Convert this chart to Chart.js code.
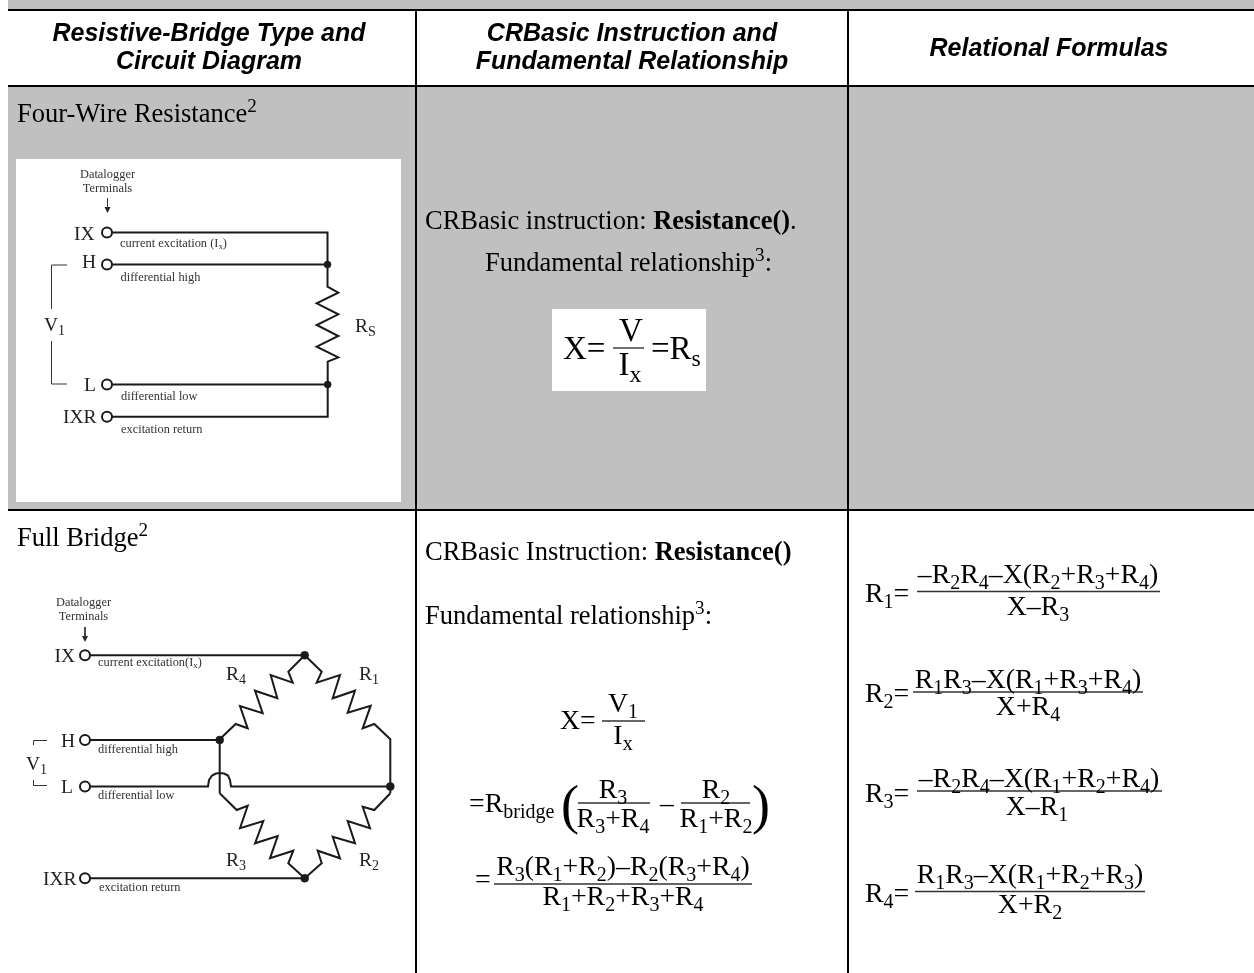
<!DOCTYPE html>
<html>
<head>
<meta charset="utf-8">
<title>Resistive-Bridge Types</title>
<script src="https://cdn.jsdelivr.net/npm/chart.js@4"></script>
<style>
  html, body { margin: 0; padding: 0; background: #fff; overflow: hidden; }
  #wrap { position: relative; width: 1254px; height: 973px; }
</style>
</head>
<body>
<div id="wrap"><canvas id="bridgeChart"></canvas></div>
<script>
// table fills and rules
const grayAreas = [
    [[8, 0], [1254, 0], [1254, 9], [8, 9]],
    [[8, 87], [1254, 87], [1254, 509], [8, 509]]
];
const whiteAreas = [
    [[16, 159], [401, 159], [401, 502], [16, 502]],
    [[552, 309], [706, 309], [706, 391], [552, 391]]
];
const tableRules = [
    [[8, 10], [1254, 10]],
    [[8, 86], [1254, 86]],
    [[8, 510], [1254, 510]],
    [[416, 10], [416, 973]],
    [[848, 10], [848, 973]]
];
const fractionBars = [
    [[613, 348], [644, 348]],
    [[602, 721], [645, 721]],
    [[578, 803], [650, 803]],
    [[681, 803], [750, 803]],
    [[494, 884], [752, 884]],
    [[917, 591.5], [1160, 591.5]],
    [[913, 692], [1143, 692]],
    [[917, 791], [1162, 791]],
    [[915, 891.5], [1145, 891.5]]
];

// four-wire diagram
const fourWireLines = [
    [[107, 232.5], [327.5, 232.5], [327.5, 286.7], [338.3, 292.7], [316.7, 303.3], [338.3, 314.3], [316.7, 325], [338.3, 336], [316.7, 346.7], [338.3, 357.3], [327.7, 361.7], [327.7, 416.7], [107, 416.7]],
    [[107, 264.5], [327.5, 264.5]],
    [[107, 384.5], [327.7, 384.5]]
];
const fourWireBracket = [
    [[67, 265], [51.5, 265], [51.5, 309]],
    [[51.5, 341], [51.5, 384], [67, 384]],
    [[107.5, 198], [107.5, 209]]
];
const fourWireTerminals = [[107, 232.5], [107, 264.5], [107, 384.5], [107, 416.7]];
const fourWireJunctions = [[327.5, 264.5], [327.7, 384.5]];

// full bridge diagram
const bridgeLines = [
    [[85, 655.3], [304.7, 655.3]],
    [[85, 740], [219.7, 740]],
    [[85, 786.5], [208, 786.5], [209, 780], [212, 775.5], [216, 773.5], [220, 773], [224, 773.5], [228, 775.5], [230, 780], [231, 786.5], [390.3, 786.5]],
    [[85, 878.3], [304.7, 878.3]],
    [[304.7, 655.3], [288.3, 671.7], [292.7, 682.7], [270.7, 675], [277.3, 698.3], [255, 690.7], [262.7, 713.3], [240, 706], [247.7, 728.3], [235.7, 724], [219.7, 739.3], [219.7, 793.3]],
    [[304.7, 655.3], [321.7, 671.7], [316.7, 682.7], [340, 675], [332.7, 698.3], [355, 690.7], [347.7, 712.7], [370.7, 705.7], [362.7, 728.3], [374.3, 724], [390.3, 739.3], [390.3, 793.3]],
    [[219.7, 793.3], [236.7, 810], [247.7, 805.7], [240, 828.3], [263.3, 821], [255, 843.3], [277.7, 836], [270, 858.3], [293.3, 850.7], [288.3, 863.3], [304.7, 878.3]],
    [[304.7, 878.3], [321.7, 863.3], [317.7, 850.7], [340, 858.3], [332.7, 836.7], [355, 843.3], [347.7, 821], [370, 828.3], [362.7, 806.7], [374.3, 810], [390.3, 793.3]]
];
const bridgeBracket = [
    [[33.5, 745], [33.5, 740.5], [47, 740.5]],
    [[33.5, 780], [33.5, 785.5], [47, 785.5]],
    [[85, 627], [85, 638]]
];
const bridgeTerminals = [[85, 655.3], [85, 740], [85, 786.5], [85, 878.3]];
const bridgeJunctions = [[304.7, 655.3], [219.7, 740], [390.3, 786.5], [304.7, 878.3]];
const arrowHeads = [
    [[104.5, 207], [110.5, 207], [107.5, 213]],
    [[82, 636], [88, 636], [85, 642]]
];

// text: _ is subscript, ^ is superscript, * toggles bold
const headerTexts = ['Resistive-Bridge Type and', 'Circuit Diagram', 'CRBasic Instruction and', 'Fundamental Relationship', 'Relational Formulas'];
const headerX = [209, 209, 632, 632, 1049];
const headerY = [41, 69, 41, 69, 56];

const bodyTexts = ['Four-Wire Resistance^2', 'Full Bridge^2', 'CRBasic instruction: *Resistance()*.', 'Fundamental relationship^3:', 'CRBasic Instruction: *Resistance()*', 'Fundamental relationship^3:'];
const bodyX = [17, 17, 425, 485, 425, 425];
const bodyY = [122, 546, 229, 271, 560, 624];

const centerSmallTexts = ['Datalogger', 'Terminals', 'Datalogger', 'Terminals'];
const centerSmallX = [107.5, 107.5, 83.5, 83.5];
const centerSmallY = [178, 192, 606, 620];

const smallTexts = ['current excitation (I_x)', 'differential high', 'differential low', 'excitation return', 'current excitation(I_x)', 'differential high', 'differential low', 'excitation return'];
const smallX = [120, 120.5, 121, 121, 98, 98, 98, 99];
const smallY = [247, 281, 400, 433, 666, 753, 799, 891];

const pinTexts = ['IX', 'H', 'V_1', 'L', 'IXR', 'R_S', 'IX', 'H', 'L', 'V_1', 'IXR', 'R_4', 'R_1', 'R_3', 'R_2'];
const pinX = [74, 82, 44, 84, 63, 355, 54.5, 61, 61, 26, 43, 226, 359, 226, 359];
const pinY = [240, 268, 331, 391, 423, 332, 662, 747, 793, 770, 885, 680, 680, 866, 866];

const formulaTexts = ['X=', '=R_bridge', '=', 'R_1=', 'R_2=', 'R_3=', 'R_4=', '–'];
const formulaX = [560, 469, 475, 865, 865, 865, 865, 660];
const formulaY = [729, 812, 888, 602, 702, 802, 902, 812];

const fractionTexts = [
    'V_1', 'I_x', 'R_3', 'R_3+R_4', 'R_2', 'R_1+R_2', 'R_3(R_1+R_2)–R_2(R_3+R_4)', 'R_1+R_2+R_3+R_4',
    '–R_2R_4–X(R_2+R_3+R_4)', 'X–R_3', 'R_1R_3–X(R_1+R_3+R_4)', 'X+R_4',
    '–R_2R_4–X(R_1+R_2+R_4)', 'X–R_1', 'R_1R_3–X(R_1+R_2+R_3)', 'X+R_2'
];
const fractionX = [623, 623, 613, 613, 716, 716, 623, 623, 1038, 1038, 1028, 1028, 1039, 1037, 1030, 1030];
const fractionY = [712, 744, 798, 827, 798, 827, 875, 905, 583, 615, 688, 715, 787, 815, 883, 913];

const bigLeftTexts = ['X=', '=R_s'];
const bigLeftX = [563, 651];
const bigLeftY = [359, 359];
const bigCenterTexts = ['V', 'I_x'];
const bigCenterX = [631, 630];
const bigCenterY = [341, 375];

const parenTexts = ['(', ')'];
const parenX = [561, 752];
const parenY = [823, 823];

const serif = '"Liberation Serif"';
const textGroups = [
    { texts: headerTexts, xs: headerX, ys: headerY, font: 'italic bold 25px "Liberation Sans"', size: 25, align: 'center', color: '#000' },
    { texts: bodyTexts, xs: bodyX, ys: bodyY, size: 26.5, align: 'left', color: '#000' },
    { texts: centerSmallTexts, xs: centerSmallX, ys: centerSmallY, size: 12.4, align: 'center', color: '#333' },
    { texts: smallTexts, xs: smallX, ys: smallY, size: 12.4, align: 'left', color: '#333' },
    { texts: pinTexts, xs: pinX, ys: pinY, size: 19.5, align: 'left', color: '#222' },
    { texts: formulaTexts, xs: formulaX, ys: formulaY, size: 27.8, align: 'left', color: '#000' },
    { texts: fractionTexts, xs: fractionX, ys: fractionY, size: 27.8, align: 'center', color: '#000' },
    { texts: bigLeftTexts, xs: bigLeftX, ys: bigLeftY, size: 33, align: 'left', color: '#000' },
    { texts: bigCenterTexts, xs: bigCenterX, ys: bigCenterY, size: 33, align: 'center', color: '#000' },
    { texts: parenTexts, xs: parenX, ys: parenY, size: 54, align: 'left', color: '#000' }
];

function splitRuns(str) {
    const runs = [];
    let bold = false;
    for (let i = 0; i < str.length; i++) {
        const c = str[i];
        if (c === '*') { bold = !bold; continue; }
        if (c === '_' || c === '^') {
            let j = i + 1;
            if (str.slice(j).startsWith('bridge')) {
                runs.push({ t: 'bridge', kind: c, bold });
                i = j + 5;
            } else {
                runs.push({ t: str[j], kind: c, bold });
                i = j;
            }
            continue;
        }
        const last = runs[runs.length - 1];
        if (last && last.kind === '' && last.bold === bold) last.t += c;
        else runs.push({ t: c, kind: '', bold });
    }
    return runs;
}

const textPlugin = {
    id: 'tableText',
    afterDatasetsDraw(chart) {
        const { ctx, scales } = chart;
        ctx.save();
        ctx.textBaseline = 'alphabetic';
        ctx.textAlign = 'left';
        textGroups.forEach(g => {
            ctx.fillStyle = g.color;
            g.texts.forEach((str, i) => {
                const runs = splitRuns(str);
                const fontFor = r => {
                    if (g.font) return g.font;
                    const s = r.kind ? g.size * 0.72 : g.size;
                    return `${r.bold ? 'bold ' : ''}${s}px ${serif}`;
                };
                let w = 0;
                runs.forEach(r => { ctx.font = fontFor(r); r.w = ctx.measureText(r.t).width; w += r.w; });
                let x = scales.x.getPixelForValue(g.xs[i]);
                if (g.align === 'center') x -= w / 2;
                const y = scales.y.getPixelForValue(g.ys[i]);
                runs.forEach(r => {
                    ctx.font = fontFor(r);
                    const dy = r.kind === '_' ? g.size * 0.2 : r.kind === '^' ? -g.size * 0.36 : 0;
                    ctx.fillText(r.t, x, y + dy);
                    x += r.w;
                });
            });
        });
        ctx.restore();
    }
};

const toPoints = list => list.map(p => ({ x: p[0], y: p[1] }));

function lineSets(lists, color, width, order) {
    return lists.map(l => ({
        data: toPoints(l), showLine: true, borderColor: color, borderWidth: width,
        pointRadius: 0, order: order, borderJoinStyle: 'miter', tension: 0
    }));
}

function areaSets(lists, color, order) {
    return lists.map(l => ({
        data: toPoints(l.concat([l[0]])), showLine: true, borderWidth: 0, borderColor: color,
        backgroundColor: color, fill: 'shape', pointRadius: 0, order: order, tension: 0
    }));
}

function pointSet(list, radius, fillColor, width, order) {
    return {
        data: toPoints(list), showLine: false, pointStyle: 'circle', pointRadius: radius,
        pointBackgroundColor: fillColor, pointBorderColor: '#1a1a1a', pointBorderWidth: width, order: order
    };
}

const bridgeChart = new Chart(document.getElementById('bridgeChart').getContext('2d'), {
    type: 'scatter',
    data: {
        datasets: [
            ...areaSets(grayAreas, '#c0c0c0', 10),
            ...areaSets(whiteAreas, '#ffffff', 9),
            ...lineSets(tableRules, '#000', 2, 8),
            ...lineSets(fractionBars, '#333', 1.4, 7),
            ...lineSets(fourWireLines, '#1a1a1a', 2, 6),
            ...lineSets(fourWireBracket, '#333', 1, 6),
            ...lineSets(bridgeLines, '#1a1a1a', 2, 6),
            ...lineSets(bridgeBracket, '#333', 1, 6),
            ...areaSets(arrowHeads, '#222', 6),
            pointSet(fourWireTerminals, 5, '#fff', 2, 2),
            pointSet(bridgeTerminals, 5, '#fff', 2, 2),
            pointSet(fourWireJunctions, 3.5, '#1a1a1a', 0.5, 1),
            pointSet(bridgeJunctions, 4, '#1a1a1a', 0.5, 1)
        ]
    },
    options: {
        responsive: true,
        maintainAspectRatio: false,
        animation: false,
        layout: { padding: 0, autoPadding: false },
        scales: {
            x: { type: 'linear', display: false, min: 0, max: 1254 },
            y: { type: 'linear', display: false, min: 0, max: 973, reverse: true }
        },
        plugins: {
            legend: { display: false },
            tooltip: { enabled: false },
            title: { display: false }
        }
    },
    plugins: [textPlugin]
});
</script>
</body>
</html>
